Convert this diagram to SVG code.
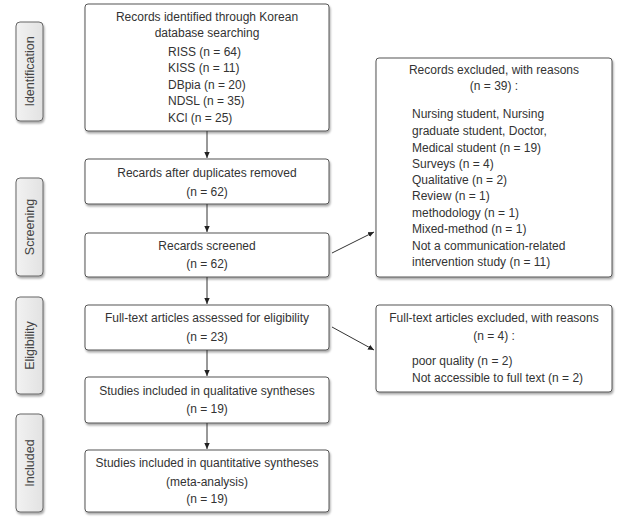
<svg xmlns="http://www.w3.org/2000/svg" width="630" height="525" viewBox="0 0 630 525">
<defs>
<linearGradient id="lg" x1="0" y1="0" x2="1" y2="0">
<stop offset="0" stop-color="#f2f2f2"/><stop offset="1" stop-color="#e2e2e2"/>
</linearGradient>
<marker id="ah" markerWidth="8" markerHeight="8" refX="6" refY="4" orient="auto" markerUnits="userSpaceOnUse">
<path d="M0,1.3 L6,4 L0,6.7 Z" fill="#222"/>
</marker>
<filter id="sh" x="-10%" y="-10%" width="130%" height="130%">
<feGaussianBlur in="SourceAlpha" stdDeviation="1"/>
<feOffset dx="1" dy="1.5" result="b"/>
<feComponentTransfer><feFuncA type="linear" slope="0.35"/></feComponentTransfer>
<feMerge><feMergeNode/><feMergeNode in="SourceGraphic"/></feMerge>
</filter>
</defs>
<style>
.box{fill:#fff;stroke:#555;stroke-width:1;filter:url(#sh)}
.side{fill:url(#lg);stroke:#666;stroke-width:1;filter:url(#sh)}
text{font-family:"Liberation Sans",Arial,sans-serif;font-size:12px;fill:#333}
.c{text-anchor:middle}
.st{font-size:12.5px;fill:#444;text-anchor:middle}
.ln{stroke:#333;stroke-width:1;fill:none;marker-end:url(#ah)}
</style>
<rect width="630" height="525" fill="#fff"/>

<g id="side-identification"><rect class="side" x="16" y="22" width="27" height="99" rx="4"/><text class="st" transform="translate(34,71.5) rotate(-90)">Identification</text></g>
<g id="side-screening"><rect class="side" x="16" y="178" width="27" height="98" rx="4"/><text class="st" transform="translate(34,227) rotate(-90)">Screening</text></g>
<g id="side-eligibility"><rect class="side" x="16" y="297" width="27" height="97" rx="4"/><text class="st" transform="translate(34,345.5) rotate(-90)">Eligibility</text></g>
<g id="side-included"><rect class="side" x="16" y="414" width="27" height="98" rx="4"/><text class="st" transform="translate(34,463) rotate(-90)">Included</text></g>

<g id="identified"><rect class="box" x="85" y="4" width="244" height="127" rx="3"/>
<text class="c" x="207" y="21">Records identified through Korean</text>
<text class="c" x="207" y="37">database searching</text>
<text x="168" y="56">RISS (n = 64)</text>
<text x="168" y="72">KISS (n = 11)</text>
<text x="168" y="89">DBpia (n = 20)</text>
<text x="168" y="105">NDSL (n = 35)</text>
<text x="168" y="122">KCl (n = 25)</text></g>

<g id="duplicates"><rect class="box" x="85" y="159" width="244" height="45" rx="3"/>
<text class="c" x="207" y="177">Recards after duplicates removed</text>
<text class="c" x="207" y="196">(n = 62)</text></g>

<g id="screened"><rect class="box" x="85" y="233" width="244" height="44" rx="3"/>
<text class="c" x="207" y="250">Recards screened</text>
<text class="c" x="207" y="268">(n = 62)</text></g>

<g id="fulltext"><rect class="box" x="85" y="305" width="244" height="45" rx="3"/>
<text class="c" x="207" y="322">Full-text articles assessed for eligibility</text>
<text class="c" x="207" y="341">(n = 23)</text></g>

<g id="qualitative"><rect class="box" x="85" y="377" width="244" height="46" rx="3"/>
<text class="c" x="207" y="395">Studies included in qualitative syntheses</text>
<text class="c" x="207" y="413">(n = 19)</text></g>

<g id="quantitative"><rect class="box" x="85" y="450" width="244" height="62" rx="3"/>
<text class="c" x="207" y="467">Studies included in quantitative syntheses</text>
<text class="c" x="207" y="486">(meta-analysis)</text>
<text class="c" x="207" y="503">(n = 19)</text></g>

<g id="excluded-records"><rect class="box" x="376" y="58" width="236" height="219" rx="3"/>
<text class="c" x="494" y="74">Records excluded, with reasons</text>
<text class="c" x="494" y="90">(n = 39) :</text>
<text x="412" y="118">Nursing student, Nursing</text>
<text x="412" y="135">graduate student, Doctor,</text>
<text x="412" y="152">Medical student (n = 19)</text>
<text x="412" y="168">Surveys (n = 4)</text>
<text x="412" y="184">Qualitative (n = 2)</text>
<text x="412" y="200">Review (n = 1)</text>
<text x="412" y="217">methodology (n = 1)</text>
<text x="412" y="233">Mixed-method (n = 1)</text>
<text x="412" y="250">Not a communication-related</text>
<text x="412" y="266">intervention study (n = 11)</text></g>

<g id="excluded-fulltext"><rect class="box" x="376" y="305" width="236" height="87" rx="3"/>
<text class="c" x="494" y="322">Full-text articles excluded, with reasons</text>
<text class="c" x="494" y="340">(n = 4) :</text>
<text x="412" y="365">poor quality (n = 2)</text>
<text x="412" y="382">Not accessible to full text (n = 2)</text></g>

<g id="connectors">
<line class="ln" x1="207" y1="131" x2="207" y2="158"/>
<line class="ln" x1="207" y1="204" x2="207" y2="232"/>
<line class="ln" x1="207" y1="277" x2="207" y2="304"/>
<line class="ln" x1="207" y1="350" x2="207" y2="376"/>
<line class="ln" x1="207" y1="423" x2="207" y2="449"/>
<line class="ln" x1="332" y1="253" x2="374" y2="232"/>
<line class="ln" x1="332" y1="327" x2="374" y2="350"/>
</g>
</svg>
